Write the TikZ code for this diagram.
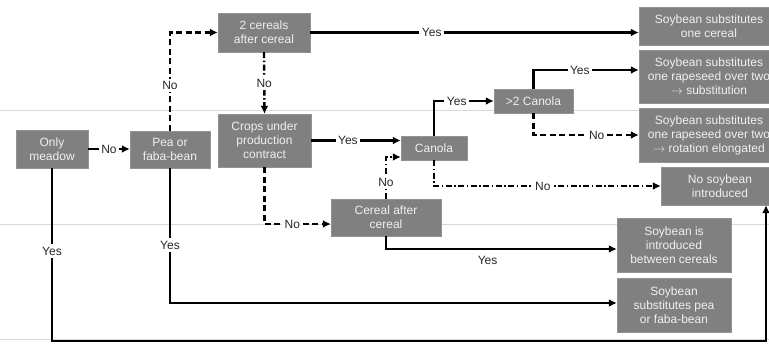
\documentclass[tikz,border=0pt]{standalone}
\usepackage{fontspec}
\setmainfont{Liberation Sans}
\usetikzlibrary{arrows.meta}
\definecolor{boxGray}{RGB}{128,128,128}
\definecolor{ruleGray}{RGB}{218,218,218}
\definecolor{labelText}{RGB}{40,40,40}
\tikzstyle{flowchart} = [x = 1pt, y = -1pt, every node/.style={font=\fontsize{12}{14}\selectfont}]
\tikzstyle{boxStyle} = [fill=boxGray, draw=boxGray!85!white, text=white!94!black, align=center, inner sep=0pt]
\tikzstyle{yesLine} = [line width=2.4pt, -{Latex[length=8pt,width=8pt]}]
\tikzstyle{noLine} = [yesLine, dash pattern=on 6pt off 3.5pt]
\tikzstyle{noDotLine} = [yesLine, dash pattern=on 6pt off 2.5pt on 1.5pt off 2.5pt]
\tikzstyle{answer} = [fill=white, text=labelText, inner sep=2.5pt]
\tikzstyle{ruleLine} = [color=ruleGray, line width=0.8pt]
\newcommand{\grayBox}[6]{\node [boxStyle, minimum width=#4, minimum height=#5] (#1) at (#2,#3) {#6};}

\begin{document}
\begin{tikzpicture}[flowchart]
  \clip (0,0) rectangle (769,345);
  \fill [white] (0,0) rectangle (769,345);
  % thin guide lines behind the chart
  \draw [ruleLine] (0,110) -- (769,110);
  \draw [ruleLine] (0,224) -- (769,224);
  \draw [ruleLine] (0,339) -- (769,339);

  % questions
  \grayBox{meadow}{52}{149}{72}{38}{Only\\meadow}
  \grayBox{pea}{170}{149.5}{80}{37}{Pea or\\faba-bean}
  \grayBox{twoCereals}{264}{32.5}{92}{39}{2 cereals\\after cereal}
  \grayBox{contract}{264.5}{140.5}{93}{53}{Crops under\\production\\contract}
  \grayBox{canola}{434}{148}{66}{24}{Canola}
  \grayBox{cerealCereal}{386}{217.5}{110}{37}{Cereal after\\cereal}
  \grayBox{manyCanola}{533.5}{101}{79}{24}{>2 Canola}

  % outcomes
  \grayBox{subCereal}{709}{26}{140}{38}{Soybean substitutes\\one cereal}
  \grayBox{subRapeseed}{709}{76.5}{140}{53}{Soybean substitutes\\one rapeseed over two\\$\rightarrow$ substitution}
  \grayBox{rotation}{709}{135}{140}{54}{Soybean substitutes\\one rapeseed over two\\$\rightarrow$ rotation elongated}
  \grayBox{noSoybean}{720}{186}{118}{38}{No soybean\\introduced}
  \grayBox{between}{674}{245}{114}{54}{Soybean is\\introduced\\between cereals}
  \grayBox{substitutesPea}{674}{305}{114}{54}{Soybean\\substitutes pea\\or faba-bean}

  % connectors
  \draw [yesLine] (meadow.east) -- node [answer] {No} (meadow.east -| pea.west);
  \draw [noLine] (pea.north) |- node [answer, pos=0.23] {No} (twoCereals.west);
  \draw [yesLine] (twoCereals.east) -- node [answer, pos=0.37] {Yes} (twoCereals.east -| subCereal.west);
  \draw [noDotLine] (twoCereals.south) -- node [answer] {No} (contract.north);
  \draw [yesLine] (contract.east) -- node [answer, pos=0.41] {Yes} (contract.east -| canola.west);
  \draw [noLine] (contract.south) |- node [answer, pos=0.71] {No} ([yshift=-6.5pt]cerealCereal.west);
  \draw [noDotLine] (cerealCereal.north) |- node [answer, pos=0.2] {No} ([yshift=-9pt]canola.west);
  \draw [yesLine] (canola.north) |- node [answer, pos=0.69] {Yes} (manyCanola.west);
  \draw [yesLine] (manyCanola.north) |- node [answer, pos=0.72] {Yes} ([yshift=6.5pt]subRapeseed.west);
  \draw [noLine] (manyCanola.south) |- node [answer, pos=0.8] {No} (rotation.west);
  \draw [noDotLine] (canola.south) |- node [answer, pos=0.74] {No} (noSoybean.west);
  \draw [yesLine] (cerealCereal.south) |- node [below=3pt, text=labelText, pos=0.72] {Yes} ([yshift=-4pt]between.west);
  \draw [yesLine] (pea.south) |- node [answer, pos=0.285] {Yes} ([yshift=2pt]substitutesPea.west);
  \coordinate (cornerRight) at (766,341);
  \draw [yesLine] (meadow.south) -- node [answer, pos=0.48] {Yes} (meadow.south |- cornerRight) -- (cornerRight) -- (cornerRight |- noSoybean.south);
\end{tikzpicture}
\end{document}
